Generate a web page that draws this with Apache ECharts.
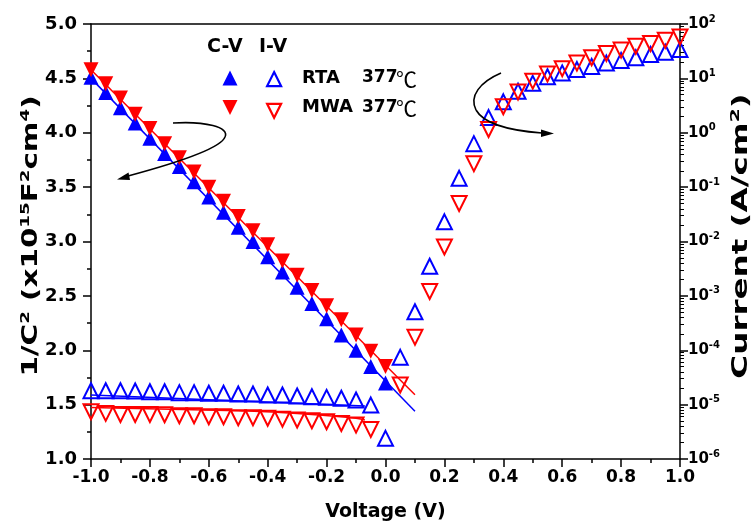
<!DOCTYPE html>
<html><head><meta charset="utf-8">
<script src="https://cdn.jsdelivr.net/npm/echarts@6/dist/echarts.min.js"></script>
<style>html,body{margin:0;padding:0;background:#fff}#c{width:755px;height:527px}</style>
</head><body><div id="c"></div>
<script>
// ---------------- data ----------------
const vCV = [-1.0,-0.95,-0.9,-0.85,-0.8,-0.75,-0.7,-0.65,-0.6,-0.55,-0.5,-0.45,-0.4,-0.35,-0.3,-0.25,-0.2,-0.15,-0.1,-0.05,0.0];
const rtaCV = [4.51,4.37,4.23,4.09,3.95,3.81,3.69,3.55,3.41,3.27,3.13,3.00,2.86,2.72,2.58,2.43,2.29,2.14,2.00,1.85,1.70];
const mwaCV = [4.58,4.45,4.32,4.17,4.04,3.90,3.77,3.64,3.50,3.37,3.23,3.10,2.97,2.82,2.69,2.55,2.41,2.28,2.14,1.99,1.85];

const vIV = [-1.0,-0.95,-0.9,-0.85,-0.8,-0.75,-0.7,-0.65,-0.6,-0.55,-0.5,-0.45,-0.4,-0.35,-0.3,-0.25,-0.2,-0.15,-0.1,-0.05,0.0,
             0.05,0.1,0.15,0.2,0.25,0.3,0.35,0.4,0.45,0.5,0.55,0.6,0.65,0.7,0.75,0.8,0.85,0.9,0.95,1.0];
const rtaIV = [1.80e-5,1.80e-5,1.80e-5,1.78e-5,1.73e-5,1.73e-5,1.66e-5,1.66e-5,1.62e-5,1.62e-5,1.57e-5,1.57e-5,1.50e-5,1.50e-5,1.44e-5,1.40e-5,1.36e-5,1.31e-5,1.22e-5,9.8e-6,2.4e-6,
               7.4e-5,5.1e-4,3.5e-3,2.3e-2,0.145,0.63,1.9,3.7,5.8,8.1,10.7,12.6,14.5,16.6,19.1,21.4,24.0,27.5,30.2,33.9];
const mwaIV = [7.4e-6,6.9e-6,6.6e-6,6.6e-6,6.6e-6,6.5e-6,6.25e-6,6.25e-6,6.0e-6,6.0e-6,5.75e-6,5.75e-6,5.6e-6,5.4e-6,5.2e-6,5.05e-6,4.85e-6,4.5e-6,4.2e-6,3.5e-6,null,
               2.3e-5,1.74e-4,1.2e-3,7.9e-3,0.05,0.27,1.15,3.0,5.6,8.9,12.0,15.1,19.1,24.0,28.8,33.1,38.9,43.7,50.1,57.5];

const rtaCVFitV = [-1.0, 0.1];        const rtaCVFit = [4.50, 1.44];
const mwaCVFitV = [-1.0, 0.1];        const mwaCVFit = [4.58, 1.59];
const rtaRevFitV = [-1.0, -0.07];     const rtaRevFit = [1.5e-5, 9.4e-6];
const mwaRevFitV = [-1.0, -0.5, -0.3, -0.1, -0.07]; const mwaRevFit = [8.9e-6, 7.7e-6, 6.9e-6, 5.6e-6, 5.2e-6];

// log-axis minor tick positions (2..9 x 10^k)
const logMinorTicks = [];
for (let k = -6; k <= 1; k++) for (let m = 2; m <= 9; m++) logMinorTicks.push(m * Math.pow(10, k));

const legendRows = [
  {name: 'RTA', temp: '377', unit: '℃'},
  {name: 'MWA', temp: '377', unit: '℃'}
];

// ---------------- helpers ----------------
const zip = (xs, ys) => xs.map((x,i) => [x, ys[i]]);
const FONT = 'DejaVu Sans';
const BLUE = '#0000ff', RED = '#ff0000';
const DOWN_TRI = 'path://M0,0L10,0L5,10Z';
const UP_TRI = 'path://M5,0L10,10L0,10Z';

const chart = echarts.init(document.getElementById('c'), null, {renderer:'canvas'});

const axisLineStyle = {color: '#000', width: 1.5};
const supRich = (size, supSize) => ({
  a: {fontFamily: FONT, fontWeight: 'bold', fontSize: size, lineHeight: size + 4, fill: '#000', color: '#000'},
  s: {fontFamily: FONT, fontWeight: 'bold', fontSize: supSize, lineHeight: supSize + 1, verticalAlign: 'top', fill: '#000', color: '#000'}
});

const graphics = [
  {type: 'text', left: 207, top: 38, style: {text: 'C-V', fontFamily: FONT, fontWeight: 'bold', fontSize: 19, fill: '#000'}},
  {type: 'text', left: 259, top: 38, style: {text: 'I-V', fontFamily: FONT, fontWeight: 'bold', fontSize: 19, fill: '#000'}},
  // y-axis titles (stretched like the reference)
  {type: 'text', x: 32, y: 236, rotation: Math.PI / 2, scaleX: 1.4,
    style: {text: '{a|1/C}{s|2}{a| (x10}{s|15}{a|F}{s|2}{a|cm}{s|4}{a|)}', align: 'center', verticalAlign: 'middle',
      rich: supRich(21, 13)}},
  {type: 'text', x: 742, y: 236, rotation: Math.PI / 2, scaleX: 1.55,
    style: {text: '{a|Current (A/cm}{s|2}{a|)}', align: 'center', verticalAlign: 'middle',
      rich: supRich(21, 13)}},
  // left arrow (annotation)
  {type: 'bezierCurve', shape: {x1: 173, y1: 123, cpx1: 205, cpy1: 121, cpx2: 230, cpy2: 127, x2: 225, y2: 137},
    style: {stroke: '#000', lineWidth: 1.6, fill: null}, z: 10},
  {type: 'bezierCurve', shape: {x1: 225, y1: 137, cpx1: 221, cpy1: 148, cpx2: 180, cpy2: 162, x2: 128, y2: 176},
    style: {stroke: '#000', lineWidth: 1.6, fill: null}, z: 10},
  {type: 'polygon', shape: {points: [[117, 179.5], [130, 180], [128.5, 172.5]]}, style: {fill: '#000'}, z: 10},
  // right arrow (annotation)
  {type: 'bezierCurve', shape: {x1: 501, y1: 73, cpx1: 480, cpy1: 82, cpx2: 469, cpy2: 96, x2: 476, y2: 110},
    style: {stroke: '#000', lineWidth: 1.6, fill: null}, z: 10},
  {type: 'bezierCurve', shape: {x1: 476, y1: 110, cpx1: 485, cpy1: 126, cpx2: 515, cpy2: 131, x2: 542, y2: 133},
    style: {stroke: '#000', lineWidth: 1.6, fill: null}, z: 10},
  {type: 'polygon', shape: {points: [[554, 133.5], [541, 129.5], [541, 137]]}, style: {fill: '#000'}, z: 10}
];
legendRows.forEach((r, i) => {
  const yc = 78 + i * 29.5;
  graphics.push({type: 'text', x: 302, y: yc, style: {text: r.name, fontFamily: FONT, fontWeight: 'bold', fontSize: 18, fill: '#000', verticalAlign: 'middle'}});
  graphics.push({type: 'text', x: 362, y: yc, style: {text: r.temp, fontFamily: FONT, fontWeight: 'bold', fontSize: 17, fill: '#000', verticalAlign: 'middle'}});
  graphics.push({type: 'text', x: 396, y: yc + 1, style: {text: r.unit, fontFamily: 'Noto Sans CJK SC', fontWeight: 'normal', fontSize: 21, fill: '#000', verticalAlign: 'middle'}});
});

const option = {
  backgroundColor: '#ffffff',
  animation: false,
  textStyle: {fontFamily: FONT},
  grid: {left: 91, right: 75, top: 24, bottom: 68},
  xAxis: [{
    type: 'value', min: -1, max: 1, interval: 0.2, position: 'bottom',
    name: 'Voltage (V)', nameLocation: 'middle', nameGap: 44,
    nameTextStyle: {fontFamily: FONT, fontWeight: 'bold', fontSize: 19, color: '#000'},
    axisLine: {show: true, onZero: false, lineStyle: axisLineStyle},
    axisTick: {show: true, length: 8, lineStyle: axisLineStyle},
    minorTick: {show: true, splitNumber: 2, length: 4, lineStyle: axisLineStyle},
    axisLabel: {fontFamily: FONT, fontWeight: 'bold', fontSize: 17, color: '#000', margin: 10,
      formatter: v => v.toFixed(1)},
    splitLine: {show: false}
  }, {
    type: 'value', min: -1, max: 1, position: 'top',
    axisLine: {show: true, onZero: false, lineStyle: axisLineStyle},
    axisTick: {show: false}, axisLabel: {show: false}, splitLine: {show: false}
  }],
  yAxis: [{
    type: 'value', min: 1, max: 5, interval: 0.5, position: 'left',
    axisLine: {show: true, onZero: false, lineStyle: axisLineStyle},
    axisTick: {show: true, length: 8, lineStyle: axisLineStyle},
    minorTick: {show: true, splitNumber: 2, length: 4, lineStyle: axisLineStyle},
    axisLabel: {fontFamily: FONT, fontWeight: 'bold', fontSize: 18, color: '#000', margin: 14,
      formatter: v => v.toFixed(1)},
    splitLine: {show: false}
  }, {
    type: 'log', logBase: 10, min: 1e-6, max: 100, position: 'right',
    axisLine: {show: true, onZero: false, lineStyle: axisLineStyle},
    axisTick: {show: true, length: 8, lineStyle: axisLineStyle},
    axisLabel: {margin: 8, color: '#000',
      formatter: v => '{b|10}{s|' + Math.round(Math.log10(v)) + '}',
      rich: {
        b: {fontFamily: FONT, fontWeight: 'bold', fontSize: 15, lineHeight: 20, color: '#000'},
        s: {fontFamily: FONT, fontWeight: 'bold', fontSize: 10, lineHeight: 11, verticalAlign: 'top', color: '#000'}
      }},
    splitLine: {show: false}
  }, {
    type: 'log', logBase: 10, min: 1e-6, max: 100, position: 'right',
    axisLine: {show: false, onZero: false},
    axisTick: {show: true, length: 4, customValues: logMinorTicks, lineStyle: {color: '#000', width: 1}},
    axisLabel: {show: false},
    splitLine: {show: false}
  }],
  legend: [{
    data: [{name: 'RTA C-V', icon: UP_TRI}, {name: 'MWA C-V', icon: DOWN_TRI}],
    orient: 'vertical', left: 222.5, top: 70.5, padding: 0,
    itemWidth: 15, itemHeight: 15, itemGap: 14.5, formatter: () => '', selectedMode: false,
    textStyle: {fontSize: 1, lineHeight: 1}
  }, {
    data: [
      {name: 'RTA I-V', icon: UP_TRI, itemStyle: {color: 'rgba(0,0,0,0)', borderColor: BLUE, borderWidth: 2.2}},
      {name: 'MWA I-V', icon: DOWN_TRI, itemStyle: {color: 'rgba(0,0,0,0)', borderColor: RED, borderWidth: 2.2}}
    ],
    orient: 'vertical', left: 266, top: 71, padding: 0,
    itemWidth: 14, itemHeight: 14, itemGap: 15.5, formatter: () => '', selectedMode: false,
    textStyle: {fontSize: 1, lineHeight: 1}
  }],
  series: [
    {name: 'RTA C-V fit', type: 'line', xAxisIndex: 0, yAxisIndex: 0, data: zip(rtaCVFitV, rtaCVFit),
      showSymbol: false, symbol: 'none', lineStyle: {color: BLUE, width: 1.5}, z: 3},
    {name: 'MWA C-V fit', type: 'line', xAxisIndex: 0, yAxisIndex: 0, data: zip(mwaCVFitV, mwaCVFit),
      showSymbol: false, symbol: 'none', lineStyle: {color: RED, width: 1.5}, z: 3},
    {name: 'RTA rev fit', type: 'line', xAxisIndex: 0, yAxisIndex: 1, data: zip(rtaRevFitV, rtaRevFit),
      showSymbol: false, symbol: 'none', lineStyle: {color: BLUE, width: 1.5}, z: 3},
    {name: 'MWA rev fit', type: 'line', xAxisIndex: 0, yAxisIndex: 1, data: zip(mwaRevFitV, mwaRevFit),
      showSymbol: false, symbol: 'none', smooth: true, lineStyle: {color: RED, width: 1.5}, z: 3},
    {name: 'RTA C-V', type: 'scatter', xAxisIndex: 0, yAxisIndex: 0, data: zip(vCV, rtaCV),
      symbol: 'triangle', symbolSize: 15, itemStyle: {color: BLUE, opacity: 1}, z: 2},
    {name: 'MWA C-V', type: 'scatter', xAxisIndex: 0, yAxisIndex: 0, data: zip(vCV, mwaCV),
      symbol: 'triangle', symbolRotate: 180, symbolSize: 15, itemStyle: {color: RED, opacity: 1}, z: 2},
    {name: 'RTA I-V', type: 'scatter', xAxisIndex: 0, yAxisIndex: 1, data: zip(vIV, rtaIV).filter(d => d[1] != null),
      symbol: 'triangle', symbolSize: 15,
      itemStyle: {color: 'rgba(0,0,0,0)', borderColor: BLUE, borderWidth: 2, opacity: 1}, z: 2},
    {name: 'MWA I-V', type: 'scatter', xAxisIndex: 0, yAxisIndex: 1, data: zip(vIV, mwaIV).filter(d => d[1] != null),
      symbol: 'triangle', symbolRotate: 180, symbolSize: 15,
      itemStyle: {color: 'rgba(0,0,0,0)', borderColor: RED, borderWidth: 2, opacity: 1}, z: 2}
  ],
  graphic: graphics
};
chart.setOption(option);
</script>
</body></html>
